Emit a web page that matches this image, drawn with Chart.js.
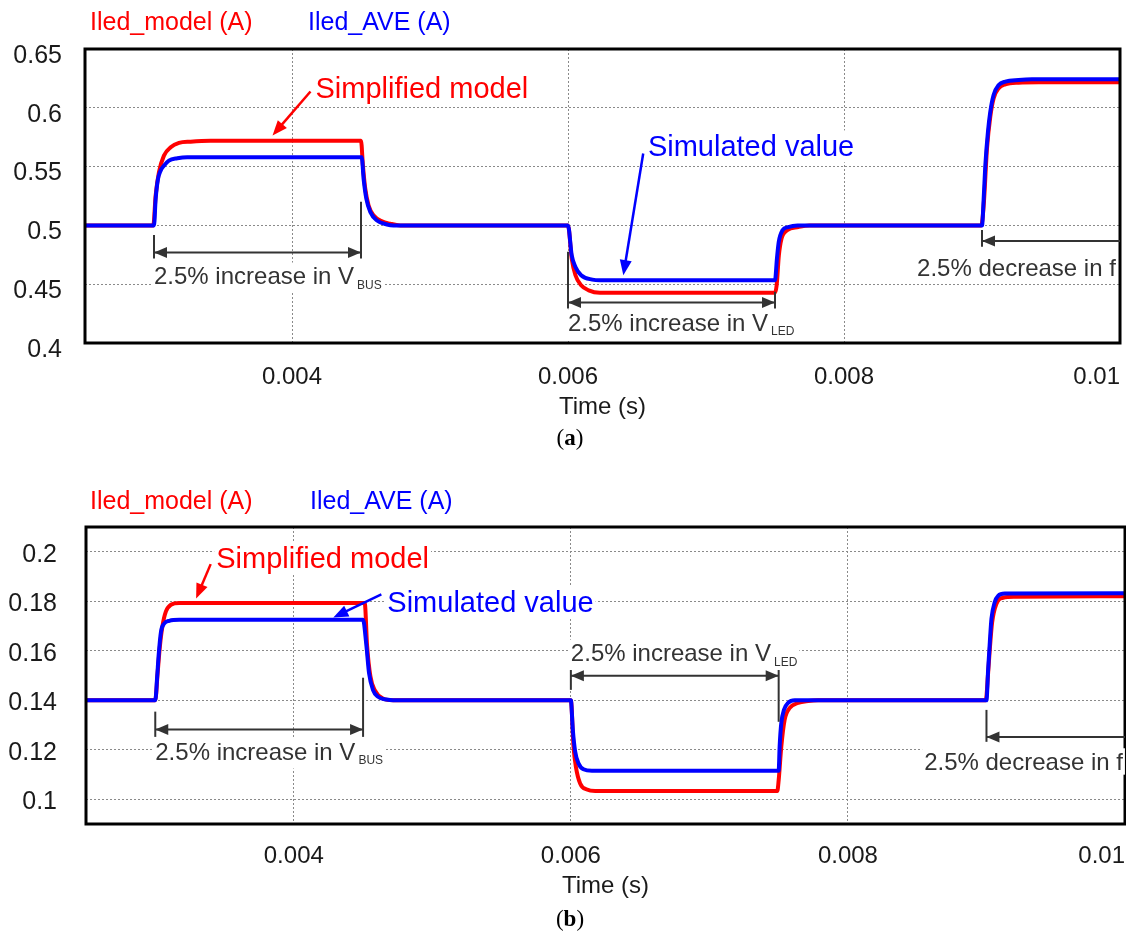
<!DOCTYPE html>
<html lang="en">
<head>
<meta charset="UTF-8" />
<title>Iled step response</title>
<script src="https://cdn.jsdelivr.net/npm/chart.js"></script>
<style>
  body { margin: 0; background: #fff; }
  .page { position: relative; width: 1126px; height: 936px; overflow: hidden; }
  canvas { position: absolute; left: 0; }
  #chartA { top: 0; }
  #chartB { top: 470px; }
</style>
</head>
<body>
<div class="page">
  <canvas id="chartA" width="1126" height="460"></canvas>
  <canvas id="chartB" width="1126" height="466"></canvas>
</div>
<script>
// ---- (a) time (s) and LED current (A) ----
const tA_model = [0.0025, 0.002995, 0.003012, 0.003036, 0.003072, 0.003121, 0.003181, 0.003265, 0.00341,
  0.0045, 0.004514, 0.004531, 0.004555, 0.004592, 0.004652, 0.004712, 0.004785,
  0.006, 0.006027, 0.006054, 0.006095, 0.00615, 0.006231,
  0.0075, 0.007512, 0.007528, 0.007547, 0.007588, 0.007669, 0.00775,
  0.008995, 0.009012, 0.009036, 0.00906, 0.009084, 0.009121, 0.009169, 0.009265, 0.00941, 0.01];
const iA_model = [0.5, 0.5, 0.5254, 0.5452, 0.5593, 0.5664, 0.5701, 0.5712, 0.572,
  0.572, 0.5508, 0.5311, 0.5169, 0.5085, 0.5034, 0.5014, 0.5,
  0.5, 0.4717, 0.4576, 0.4491, 0.4448, 0.4428,
  0.4428, 0.4491, 0.4745, 0.4887, 0.4958, 0.4986, 0.5,
  0.5, 0.5166, 0.5651, 0.5923, 0.608, 0.6166, 0.62, 0.6214, 0.6217, 0.6217];

const tA_ave = [0.0025, 0.003, 0.003012, 0.003029, 0.003048, 0.003072, 0.003108, 0.003169, 0.003241,
  0.004505, 0.004519, 0.004539, 0.004568, 0.004616, 0.004688, 0.004736,
  0.006, 0.006027, 0.006054, 0.006095, 0.006176, 0.006231,
  0.0075, 0.007514, 0.007527, 0.007554, 0.007595, 0.007663,
  0.009, 0.009012, 0.009024, 0.009043, 0.00906, 0.009084, 0.009121, 0.009169, 0.009265, 0.009362, 0.01];
const iA_ave = [0.5, 0.5, 0.5226, 0.5395, 0.5466, 0.5508, 0.5551, 0.5571, 0.558,
  0.558, 0.5395, 0.5226, 0.5113, 0.5042, 0.5008, 0.5,
  0.5, 0.4745, 0.4646, 0.4576, 0.4539, 0.4533,
  0.4533, 0.4717, 0.4859, 0.4958, 0.4986, 0.5,
  0.5, 0.5223, 0.5509, 0.5794, 0.5966, 0.6109, 0.6194, 0.6223, 0.6237, 0.6243, 0.6243];

// ---- (b) ----
const tB_model = [0.0025, 0.003, 0.003017, 0.003034, 0.003053, 0.003077, 0.003113, 0.003173,
  0.004512, 0.004529, 0.004553, 0.004584, 0.004644, 0.004717,
  0.006, 0.006019, 0.006036, 0.006067, 0.006116, 0.006176,
  0.00749, 0.0075, 0.007519, 0.007543, 0.00758, 0.00764, 0.007713, 0.007784,
  0.008995, 0.009012, 0.009024, 0.009041, 0.009072, 0.00912, 0.009205, 0.01];
const iB_model = [0.14, 0.14, 0.151, 0.1621, 0.1703, 0.1759, 0.1786, 0.1793,
  0.1793, 0.1621, 0.1497, 0.1441, 0.1407, 0.14,
  0.14, 0.1213, 0.1132, 0.1064, 0.1039, 0.1033,
  0.1033, 0.1077, 0.1213, 0.1321, 0.1369, 0.1389, 0.1397, 0.14,
  0.14, 0.1511, 0.1606, 0.1715, 0.179, 0.1814, 0.1818, 0.182];

const tB_ave = [0.0025, 0.003, 0.003014, 0.003024, 0.003041, 0.003065, 0.003101, 0.003173,
  0.0045, 0.004524, 0.004543, 0.004572, 0.004608, 0.004669, 0.004717,
  0.006, 0.006014, 0.006031, 0.006055, 0.006091, 0.006152,
  0.0075, 0.007507, 0.007519, 0.007539, 0.007568, 0.007616,
  0.009, 0.009012, 0.009024, 0.009036, 0.00906, 0.009084, 0.009132, 0.01];
const iB_ave = [0.14, 0.14, 0.1497, 0.1579, 0.1676, 0.171, 0.1721, 0.1725,
  0.1725, 0.1621, 0.151, 0.1441, 0.1414, 0.1403, 0.14,
  0.14, 0.1281, 0.1193, 0.1145, 0.1121, 0.1115,
  0.1115, 0.1213, 0.1308, 0.1362, 0.1389, 0.14,
  0.14, 0.1524, 0.1633, 0.1729, 0.1797, 0.1822, 0.1831, 0.1832];

// ticks
const xTicks = [0.0025, 0.004, 0.006, 0.008, 0.01];
const xTickLabels = ['', '0.004', '0.006', '0.008', '0.01'];
const yTicksA = [0.4, 0.45, 0.5, 0.55, 0.6, 0.65];
const yTickLabelsA = ['0.4', '0.45', '0.5', '0.55', '0.6', '0.65'];
const yTicksB = [0.1, 0.12, 0.14, 0.16, 0.18, 0.2];
const yTickLabelsB = ['0.1', '0.12', '0.14', '0.16', '0.18', '0.2'];

const RED = '#ff0000';
const BLUE = '#0000ff';
const INK = '#333333';
const SANS = "'Liberation Sans', Arial, sans-serif";
const SERIF = "'Liberation Serif', 'Times New Roman', serif";

function series(ts, vs) {
  return ts.map((t, i) => ({ x: t, y: vs[i] }));
}

function segment(ctx, x1, y1, x2, y2) {
  ctx.beginPath();
  ctx.moveTo(x1, y1);
  ctx.lineTo(x2, y2);
  ctx.stroke();
}

// filled arrow head pointing from (x1,y1) towards tip (x2,y2)
function head(ctx, x1, y1, x2, y2, len, half) {
  const a = Math.atan2(y2 - y1, x2 - x1);
  const bx = x2 - len * Math.cos(a), by = y2 - len * Math.sin(a);
  ctx.beginPath();
  ctx.moveTo(x2, y2);
  ctx.lineTo(bx + half * Math.sin(a), by - half * Math.cos(a));
  ctx.lineTo(bx - half * Math.sin(a), by + half * Math.cos(a));
  ctx.closePath();
  ctx.fill();
}

// text on a white box, with optional subscript
function boxedText(ctx, text, x, y, size, color, align, sub) {
  y += Math.round(size * 0.13);
  ctx.font = `${size}px ${SANS}`;
  const w = ctx.measureText(text).width;
  let sw = 0;
  if (sub) {
    ctx.font = `12px ${SANS}`;
    sw = ctx.measureText(sub).width + 3;
  }
  const left = align === 'right' ? x - w - sw : x;
  ctx.fillStyle = '#fff';
  ctx.fillRect(left - 2, y - size * 0.62, w + sw + 4, size * 1.1 + (sub ? 4 : 0));
  ctx.fillStyle = color;
  ctx.textAlign = 'left';
  ctx.textBaseline = 'middle';
  ctx.font = `${size}px ${SANS}`;
  ctx.fillText(text, left, y);
  if (sub) {
    ctx.font = `12px ${SANS}`;
    ctx.fillText(sub, left + w + 3, y + 8);
  }
}

const overlay = {
  id: 'overlay',
  afterDraw(chart, args, opt) {
    const { ctx, chartArea: a } = chart;
    const px = t => chart.scales.x.getPixelForValue(t);
    const py = v => chart.scales.y.getPixelForValue(v);
    ctx.save();

    // plot frame
    ctx.strokeStyle = '#000';
    ctx.lineWidth = 3;
    ctx.strokeRect(a.left, a.top, a.right - a.left, a.bottom - a.top);

    // series names above the plot
    ctx.font = `25px ${SANS}`;
    ctx.textAlign = 'left';
    ctx.textBaseline = 'alphabetic';
    opt.names.forEach(n => {
      ctx.fillStyle = n.color;
      ctx.fillText(n.text, n.x, n.y);
    });

    // dimension lines
    ctx.strokeStyle = INK;
    ctx.fillStyle = INK;
    ctx.lineWidth = 2;
    opt.marks.forEach(([t, v1, v2]) => segment(ctx, px(t), py(v1), px(t), py(v2)));
    opt.spans.forEach(s => {
      const y = py(s.v), x1 = px(s.from), x2 = px(s.to);
      segment(ctx, x1, y, x2, y);
      head(ctx, x1, y, x2, y, 13, 5.5);
      if (s.both) head(ctx, x2, y, x1, y, 13, 5.5);
    });
    opt.notes.forEach(n => boxedText(ctx, n.text, px(n.t), py(n.v), 24, INK, n.align, n.sub));

    // callouts
    opt.callouts.forEach(c => {
      ctx.strokeStyle = c.color;
      ctx.fillStyle = c.color;
      ctx.lineWidth = 2.5;
      const x1 = px(c.from[0]), y1 = py(c.from[1]), x2 = px(c.to[0]), y2 = py(c.to[1]);
      const ang = Math.atan2(y2 - y1, x2 - x1);
      segment(ctx, x1, y1, x2 - 10 * Math.cos(ang), y2 - 10 * Math.sin(ang));
      head(ctx, x1, y1, x2, y2, 15, 6);
      boxedText(ctx, c.text, px(c.at[0]), py(c.at[1]), 29, c.color, 'left');
    });

    // caption (a) / (b)
    ctx.fillStyle = '#000';
    ctx.textBaseline = 'middle';
    ctx.textAlign = 'left';
    ctx.font = `23px ${SERIF}`;
    const pw = ctx.measureText('(').width;
    ctx.font = `bold 23px ${SERIF}`;
    const lw = ctx.measureText(opt.caption.letter).width;
    const cx = opt.caption.x - (2 * pw + lw) / 2;
    ctx.font = `23px ${SERIF}`;
    ctx.fillText('(', cx, opt.caption.y);
    ctx.font = `bold 23px ${SERIF}`;
    ctx.fillText(opt.caption.letter, cx + pw, opt.caption.y);
    ctx.font = `23px ${SERIF}`;
    ctx.fillText(')', cx + pw + lw, opt.caption.y);

    ctx.restore();
  }
};

function buildChart(id, o) {
  const gridStyle = { color: '#8a8a8a', lineWidth: 1, drawTicks: false };
  const borderStyle = { display: false, dash: [2, 2] };
  return new Chart(document.getElementById(id), {
    type: 'line',
    data: {
      datasets: [
        { label: 'Iled_AVE (A)', data: series(o.tAve, o.iAve), borderColor: BLUE, order: 0 },
        { label: 'Iled_model (A)', data: series(o.tModel, o.iModel), borderColor: RED, order: 1 }
      ]
    },
    options: {
      responsive: false,
      animation: false,
      layout: { padding: o.padding },
      elements: {
        point: { radius: 0 },
        line: { borderWidth: 4, cubicInterpolationMode: 'monotone', fill: false }
      },
      plugins: {
        legend: { display: false },
        tooltip: { enabled: false },
        overlay: o.overlay
      },
      scales: {
        x: {
          type: 'linear',
          min: 0.0025,
          max: 0.01,
          afterBuildTicks: s => { s.ticks = xTicks.map(v => ({ value: v })); },
          afterFit: s => {
            s.height = o.xHeight;
            s.paddingLeft = 0;
            s.paddingRight = 0;
          },
          ticks: {
            callback: (v, i) => xTickLabels[i],
            align: 'inner',
            autoSkip: false,
            maxRotation: 0,
            padding: o.xPad,
            color: '#1a1a1a',
            font: { family: SANS, size: 24 }
          },
          grid: gridStyle,
          border: borderStyle,
          title: {
            display: true,
            text: 'Time (s)',
            color: '#1a1a1a',
            font: { family: SANS, size: 24 },
            padding: { top: 0, bottom: o.titlePad }
          }
        },
        y: {
          type: 'linear',
          min: o.yMin,
          max: o.yMax,
          afterBuildTicks: s => { s.ticks = o.yTicks.map(v => ({ value: v })); },
          afterFit: s => { s.width = o.yWidth; },
          ticks: {
            callback: (v, i) => o.yLabels[i],
            padding: o.yPad,
            labelOffset: o.yLabelOffset,
            color: '#1a1a1a',
            font: { family: SANS, size: 25 }
          },
          grid: gridStyle,
          border: borderStyle
        }
      }
    },
    plugins: [overlay]
  });
}

buildChart('chartA', {
  tModel: tA_model, iModel: iA_model, tAve: tA_ave, iAve: iA_ave,
  yMin: 0.4, yMax: 0.65, yTicks: yTicksA, yLabels: yTickLabelsA,
  padding: { left: 0, top: 49, right: 6, bottom: 0 },
  yWidth: 85, yPad: 23, yLabelOffset: 7, xHeight: 117, xPad: 20, titlePad: 38,
  overlay: {
    names: [
      { text: 'Iled_model (A)', x: 90, y: 30, color: RED },
      { text: 'Iled_AVE (A)', x: 308, y: 30, color: BLUE }
    ],
    caption: { letter: 'a', x: 570, y: 439 },
    marks: [[0.003, 0.4918, 0.4719], [0.0045, 0.5202, 0.4719], [0.006, 0.4776, 0.4294],
            [0.0075, 0.4435, 0.4294], [0.009, 0.496, 0.4819]],
    spans: [
      { from: 0.003, to: 0.0045, v: 0.477, both: true },
      { from: 0.006, to: 0.0075, v: 0.4345, both: true },
      { from: 0.01, to: 0.009, v: 0.4867, both: false }
    ],
    notes: [
      { text: '2.5% increase in V', sub: 'BUS', t: 0.003, v: 0.4583, align: 'left' },
      { text: '2.5% increase in V', sub: 'LED', t: 0.006, v: 0.4186, align: 'left' },
      { text: '2.5% decrease in f', t: 0.00997, v: 0.4649, align: 'right' }
    ],
    callouts: [
      { text: 'Simplified model', color: RED, at: [0.00417, 0.6182],
        from: [0.004134, 0.6139], to: [0.003859, 0.5765] },
      { text: 'Simulated value', color: BLUE, at: [0.006579, 0.5689],
        from: [0.006545, 0.5612], to: [0.006401, 0.4577] }
    ]
  }
});

buildChart('chartB', {
  tModel: tB_model, iModel: iB_model, tAve: tB_ave, iAve: iB_ave,
  yMin: 0.09, yMax: 0.21, yTicks: yTicksB, yLabels: yTickLabelsB,
  padding: { left: 0, top: 57, right: 1, bottom: 0 },
  yWidth: 86, yPad: 29, yLabelOffset: 3, xHeight: 112, xPad: 18, titlePad: 35,
  overlay: {
    names: [
      { text: 'Iled_model (A)', x: 90, y: 39, color: RED },
      { text: 'Iled_AVE (A)', x: 310, y: 39, color: BLUE }
    ],
    caption: { letter: 'b', x: 570, y: 450 },
    marks: [[0.003, 0.1354, 0.1252], [0.0045, 0.1491, 0.1252], [0.006, 0.1537, 0.1442],
            [0.0075, 0.1531, 0.1313], [0.009, 0.1361, 0.1232]],
    spans: [
      { from: 0.003, to: 0.0045, v: 0.1282, both: true },
      { from: 0.006, to: 0.0075, v: 0.1499, both: true },
      { from: 0.01, to: 0.009, v: 0.1252, both: false }
    ],
    notes: [
      { text: '2.5% increase in V', sub: 'BUS', t: 0.003, v: 0.1199, align: 'left' },
      { text: '2.5% increase in V', sub: 'LED', t: 0.006, v: 0.1597, align: 'left' },
      { text: '2.5% decrease in f', t: 0.009985, v: 0.1158, align: 'right' }
    ],
    callouts: [
      { text: 'Simplified model', color: RED, at: [0.00344, 0.1982],
        from: [0.0034, 0.195], to: [0.003295, 0.1811] },
      { text: 'Simulated value', color: BLUE, at: [0.004675, 0.1807],
        from: [0.004632, 0.1828], to: [0.004285, 0.1734] }
    ]
  }
});
</script>
</body>
</html>
